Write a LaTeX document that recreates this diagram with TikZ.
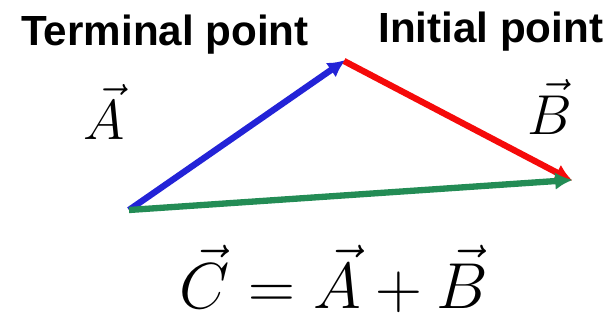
\RequirePackage{fix-cm}
\documentclass[tikz,border=0pt]{standalone}
\usepackage{amsmath,amssymb}
\usepackage{fontspec}
\usepackage{tikz}
\usepackage{xcolor}
\usetikzlibrary{arrows.meta}

\newfontfamily\labelfont{Liberation Sans}
\definecolor{vblue}{RGB}{35,35,215}
\definecolor{vred}{RGB}{245,10,10}
\definecolor{vgreen}{RGB}{35,140,85}

\tikzset{
  vecline/.style={line width=3.6pt, -{Latex[length=10pt,width=10pt]}, shorten >=-1pt},
  ptlabel/.style={anchor=base west, inner sep=0pt, font=\labelfont\bfseries\fontsize{24}{26}\selectfont},
  veclabel/.style={anchor=base, inner sep=0pt, font=\fontsize{32}{36}\selectfont},
}

\begin{document}
\begin{tikzpicture}[x=0.02cm, y=-0.02cm]
  \useasboundingbox (0,0) rectangle (605,321);

  % Corners of the triangle
  \coordinate (tail) at (129,210);
  \coordinate (tip) at (344,61);
  \coordinate (head) at (571,180);

  % Vectors
  \draw[vecline, vblue] (tail) -- (tip);
  \draw[vecline, vred] (tip) -- (head);
  \draw[vecline, vgreen] (tail) -- (head);

  % Point labels
  \node[ptlabel] (term) at (21,45) {Terminal point};
  \node[ptlabel] (init) at (378,42) {Initial point};

  % Vector labels
  \node[veclabel] (lblA) at (104,139) {$\vec{A}$};
  \node[veclabel] (lblB) at (550,134) {$\vec{B}$};
  \node[veclabel, font=\fontsize{37}{40}\selectfont] (sum) at (334,308) {$\vec{C}=\vec{A}+\vec{B}$};
\end{tikzpicture}
\end{document}
